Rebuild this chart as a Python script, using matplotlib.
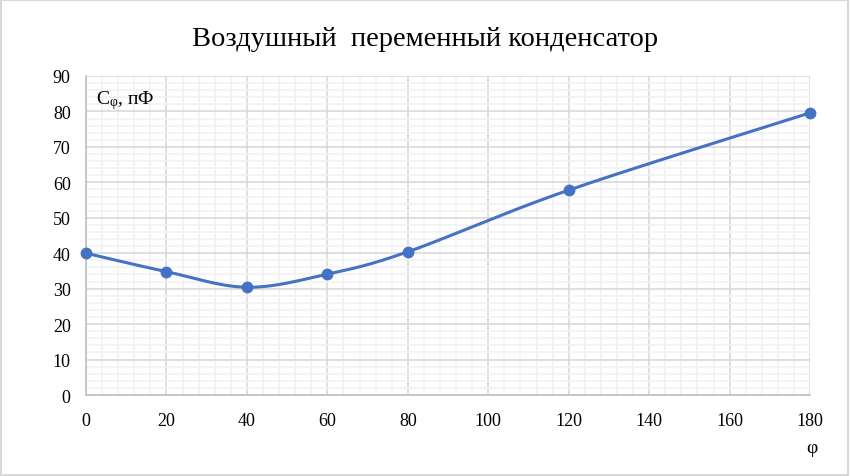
import numpy as np
import matplotlib
matplotlib.use('Agg')
import matplotlib.pyplot as plt
from matplotlib.ticker import MultipleLocator

plt.rcParams['font.family'] = ['Liberation Serif', 'DejaVu Serif']
plt.rcParams['mathtext.fontset'] = 'custom'
plt.rcParams['mathtext.rm'] = 'Liberation Serif'
plt.rcParams['mathtext.it'] = 'Liberation Serif'

# данные
phi = [0, 20, 40, 60, 80, 120, 180]
cap = [40.0, 34.8, 30.4, 34.1, 40.4, 57.8, 79.6]

title = 'Воздушный  переменный конденсатор'
color = '#4472C4'


def excel_smooth(x, y, n=40):
    # сглаживание как в Excel: кривые Безье по соседним точкам
    x = np.asarray(x, float)
    y = np.asarray(y, float)
    px = np.concatenate([[x[0]], x, [x[-1]]])
    py = np.concatenate([[y[0]], y, [y[-1]]])
    xs, ys = [], []
    t = np.linspace(0, 1, n)
    for i in range(1, len(px) - 2):
        p0 = np.array([px[i], py[i]])
        p3 = np.array([px[i + 1], py[i + 1]])
        p1 = p0 + (p3 - np.array([px[i - 1], py[i - 1]])) / 6
        p2 = p3 - (np.array([px[i + 2], py[i + 2]]) - p0) / 6
        b = ((1 - t) ** 3)[:, None] * p0 + (3 * (1 - t) ** 2 * t)[:, None] * p1 \
            + (3 * (1 - t) * t ** 2)[:, None] * p2 + (t ** 3)[:, None] * p3
        xs.extend(b[:, 0])
        ys.extend(b[:, 1])
    return xs, ys


fig = plt.figure(figsize=(8.5, 4.77), dpi=100)
ax = fig.add_axes([0.1012, 0.1698, 0.8518, 0.6688])

sx, sy = excel_smooth(phi, cap)
ax.plot(sx, sy, color=color, lw=2.2, zorder=3, clip_on=False)
ax.plot(phi, cap, 'o', color=color, ms=7.5, zorder=4, clip_on=False)

ax.set_xlim(0, 180)
ax.set_ylim(0, 90)
ax.xaxis.set_major_locator(MultipleLocator(20))
ax.xaxis.set_minor_locator(MultipleLocator(4))
ax.yaxis.set_major_locator(MultipleLocator(10))
ax.yaxis.set_minor_locator(MultipleLocator(2))
ax.grid(which='major', color='#D9D9D9', lw=1.2)
ax.grid(which='minor', color='#F2F2F2', lw=1.2)
ax.set_axisbelow(True)
ax.tick_params(which='both', length=0, labelsize=13, colors='#000000')
ax.tick_params(axis='x', pad=12)
ax.tick_params(axis='y', pad=11)
for s in ['top', 'right']:
    ax.spines[s].set_visible(False)
for s in ['left', 'bottom']:
    ax.spines[s].set_color('#BFBFBF')
    ax.spines[s].set_linewidth(1.2)

fig.text(0.5, 0.918, title, ha='center', va='center', fontsize=20.5)
ax.text(2.5, 86.5, 'C$_{\\mathrm{φ}}$, пФ', fontsize=14, va='top', ha='left')
fig.text(0.955, 0.06, 'φ', ha='center', va='center', fontsize=14)

# рамка вокруг рисунка
fig.patches.append(plt.Rectangle((0.001, 0.002), 0.997, 0.996, transform=fig.transFigure,
                                 fill=False, edgecolor='#D9D9D9', lw=1.5))

fig.savefig('out.png', dpi=100)
